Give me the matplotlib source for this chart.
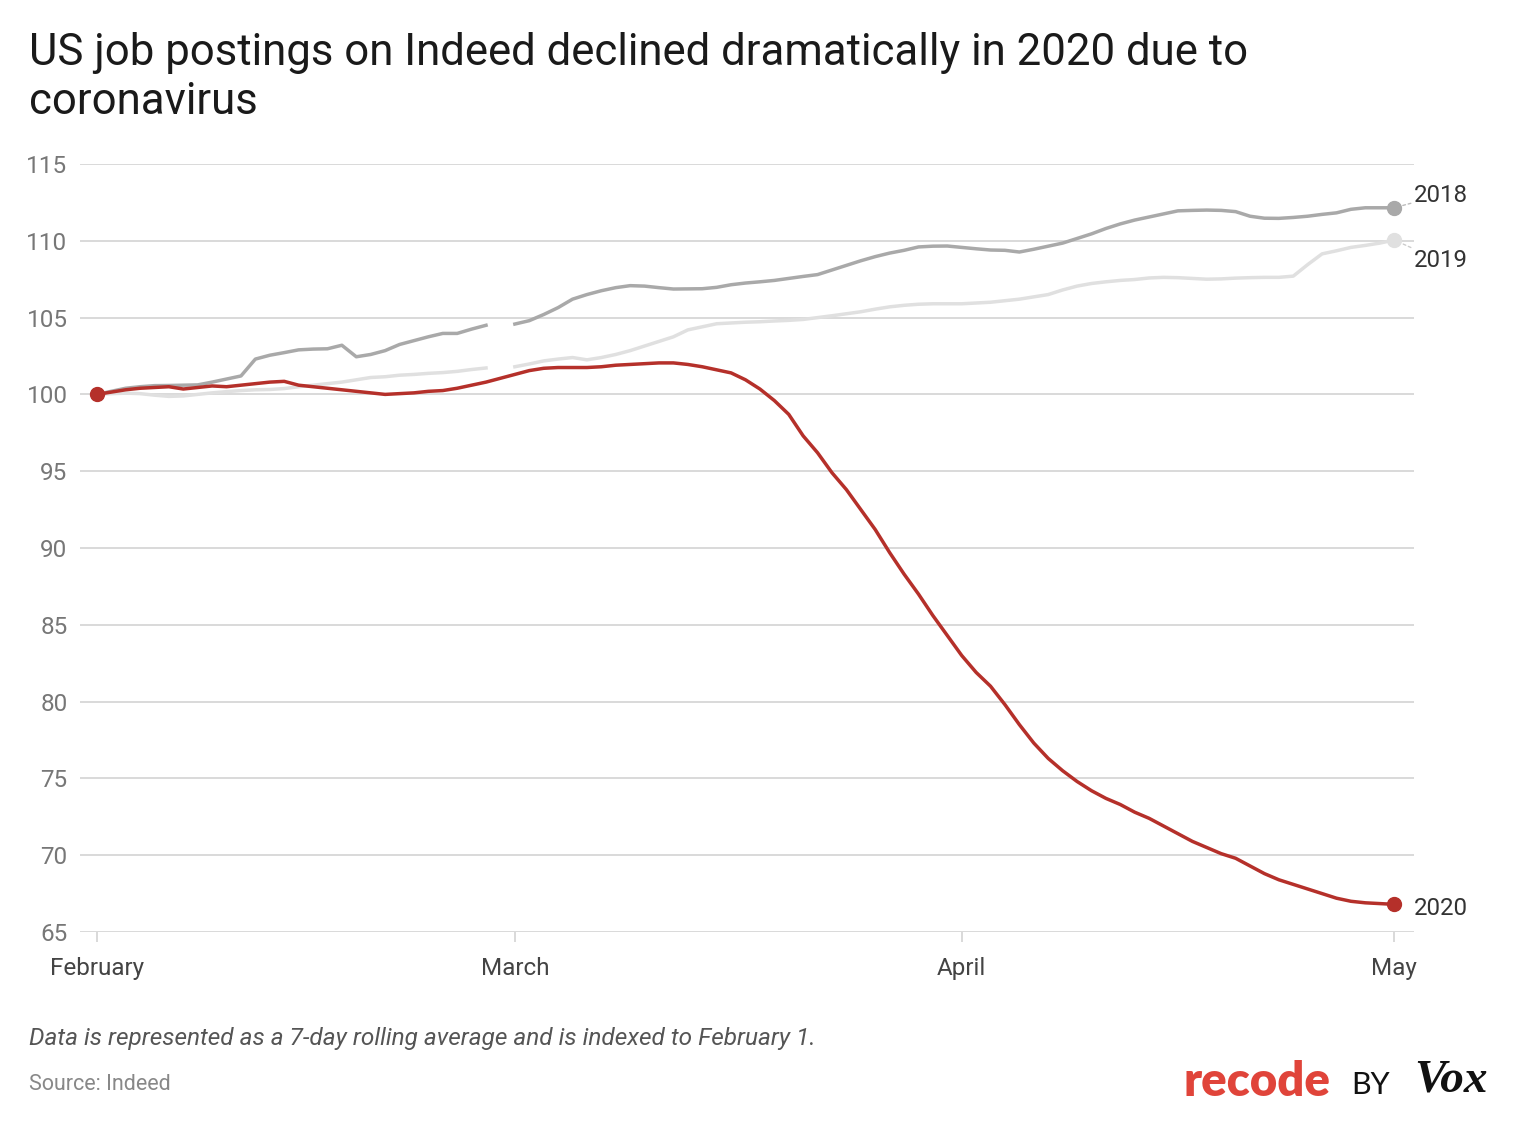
import numpy as np
import pandas as pd
import matplotlib
matplotlib.use("Agg")
import matplotlib.pyplot as plt

# daily values, Feb 1 - May 1 (index = 100 on Feb 1); no Feb 29 in 2018/2019
dates = pd.date_range("2020-02-01", "2020-05-01", freq="D")

y2018 = [100.0, 100.2, 100.4, 100.5, 100.57, 100.58, 100.6, 100.62, 100.8, 101.0,
         101.2, 102.3, 102.55, 102.72, 102.9, 102.95, 102.97, 103.2, 102.45, 102.6,
         102.85, 103.25, 103.5, 103.75, 103.97, 103.97, 104.25, 104.5, np.nan, 104.58,
         104.8, 105.2, 105.65, 106.2, 106.5, 106.75, 106.95, 107.08, 107.05, 106.95,
         106.86, 106.87, 106.88, 106.97, 107.14, 107.25, 107.33, 107.42, 107.55, 107.68,
         107.8, 108.1, 108.4, 108.7, 108.97, 109.2, 109.38, 109.6, 109.65, 109.66,
         109.57, 109.48, 109.4, 109.38, 109.27, 109.45, 109.65, 109.85, 110.15, 110.45,
         110.8, 111.1, 111.35, 111.55, 111.75, 111.95, 111.98, 112.0, 111.98, 111.9,
         111.6, 111.47, 111.46, 111.52, 111.6, 111.72, 111.82, 112.05, 112.15, 112.15,
         112.15]

y2019 = [100.0, 100.05, 100.08, 100.05, 99.95, 99.87, 99.9, 100.0, 100.1, 100.18,
         100.25, 100.3, 100.32, 100.38, 100.5, 100.6, 100.7, 100.8, 100.95, 101.1,
         101.15, 101.25, 101.3, 101.37, 101.42, 101.5, 101.62, 101.72, np.nan, 101.8,
         101.98, 102.18, 102.3, 102.4, 102.25, 102.4, 102.6, 102.85, 103.15, 103.45,
         103.75, 104.2, 104.4, 104.6, 104.65, 104.7, 104.73, 104.78, 104.82, 104.88,
         105.0, 105.12, 105.25, 105.38, 105.55, 105.7, 105.8, 105.87, 105.9, 105.9,
         105.9, 105.95, 106.0, 106.1, 106.2, 106.35, 106.5, 106.8, 107.05, 107.22,
         107.33, 107.42, 107.48, 107.58, 107.62, 107.6, 107.55, 107.5, 107.52, 107.57,
         107.6, 107.62, 107.62, 107.7, 108.45, 109.15, 109.35, 109.57, 109.7, 109.85,
         110.05]

y2020 = [100.0, 100.15, 100.3, 100.4, 100.45, 100.5, 100.35, 100.45, 100.55, 100.5,
         100.6, 100.7, 100.8, 100.85, 100.6, 100.5, 100.4, 100.3, 100.2, 100.1,
         100.0, 100.05, 100.1, 100.2, 100.25, 100.4, 100.6, 100.8, 101.05, 101.3,
         101.55, 101.7, 101.75, 101.75, 101.75, 101.8, 101.9, 101.95, 102.0, 102.05,
         102.05, 101.95, 101.8, 101.6, 101.4, 100.95, 100.35, 99.6, 98.7, 97.3,
         96.2, 94.9, 93.8, 92.5, 91.2, 89.7, 88.3, 87.0, 85.6, 84.3,
         83.0, 81.9, 81.0, 79.8, 78.5, 77.3, 76.3, 75.5, 74.8, 74.2,
         73.7, 73.3, 72.8, 72.4, 71.9, 71.4, 70.9, 70.5, 70.1, 69.8,
         69.3, 68.8, 68.4, 68.1, 67.8, 67.5, 67.2, 67.0, 66.9, 66.85,
         66.8]

month_ticks = pd.to_datetime(["2020-02-01", "2020-03-01", "2020-04-01", "2020-05-01"])
month_labels = ["February", "March", "April", "May"]
y_ticks = [65, 70, 75, 80, 85, 90, 95, 100, 105, 110, 115]

RED = "#b5302a"
DARK = "#a9a9a9"
LIGHT = "#e0e0e0"
GRID = "#d9d9d9"

plt.rcParams["font.family"] = ["Roboto", "DejaVu Sans"]

fig = plt.figure(figsize=(15.18, 11.32), dpi=100)
ax = fig.add_axes([80 / 1518, 1 - 932 / 1132, (1414 - 80) / 1518, (932 - 164) / 1132])

ax.plot(dates, y2019, color=LIGHT, lw=2.5, clip_on=False, zorder=3)
ax.plot(dates, y2018, color=DARK, lw=2.5, clip_on=False, zorder=4)
ax.plot(dates, y2020, color=RED, lw=2.5, clip_on=False, zorder=5)

ax.plot(dates[-1], y2019[-1], "o", color=LIGHT, ms=10, zorder=6, clip_on=False)
ax.plot(dates[-1], y2018[-1], "o", color=DARK, ms=10, zorder=6, clip_on=False)
ax.plot(dates[-1], y2020[-1], "o", color=RED, ms=10, zorder=6, clip_on=False)
ax.plot(dates[0], y2020[0], "o", color=RED, ms=10, zorder=6, clip_on=False)

# end labels
ax.annotate("2018", xy=(dates[-1], y2018[-1]), xytext=(14, 9), textcoords="offset points",
            fontsize=17.3, color="#333333", va="center", ha="left",
            arrowprops=dict(arrowstyle="-", color="#bbbbbb", ls=(0, (2, 2)), lw=1,
                            shrinkA=0, shrinkB=6))
ax.annotate("2019", xy=(dates[-1], y2019[-1]), xytext=(14, -15), textcoords="offset points",
            fontsize=17.3, color="#333333", va="center", ha="left",
            arrowprops=dict(arrowstyle="-", color="#cccccc", ls=(0, (2, 2)), lw=1,
                            shrinkA=0, shrinkB=6))
ax.annotate("2020", xy=(dates[-1], y2020[-1]), xytext=(14, -3), textcoords="offset points",
            fontsize=17.3, color="#333333", va="center", ha="left")

ax.set_ylim(65, 115)
ax.set_xlim(dates[0] - pd.Timedelta(hours=28), dates[-1] + pd.Timedelta(hours=33))
ax.set_yticks(y_ticks)
ax.set_xticks(month_ticks)
ax.set_xticklabels(month_labels)
ax.grid(axis="y", color=GRID, lw=1.4)
ax.set_axisbelow(True)
for s in ax.spines.values():
    s.set_visible(False)
ax.tick_params(axis="y", length=0, pad=9, labelsize=17.5, labelcolor="#777777")
ax.tick_params(axis="x", length=7, width=1.4, color=GRID, pad=11, labelsize=17.5,
               labelcolor="#444444")

fig.text(29 / 1518, 1 - 32 / 1132,
         "US job postings on Indeed declined dramatically in 2020 due to\ncoronavirus",
         fontsize=31.5, color="#1a1a1a", va="top", ha="left", linespacing=1.22)

fig.text(29 / 1518, 1 - 1039 / 1132,
         "Data is represented as a 7-day rolling average and is indexed to February 1.",
         fontsize=17.6, style="italic", color="#555555", va="center", ha="left")
fig.text(29 / 1518, 1 - 1084 / 1132, "Source: Indeed",
         fontsize=15.5, color="#888888", va="center", ha="left")

# logo
fig.text(1183 / 1518, 1 - 1082 / 1132, "recode", fontsize=34, fontweight="heavy",
         color="#e0443a", va="center", ha="left", family=["Lato", "DejaVu Sans"])
fig.text(1351 / 1518, 1 - 1085 / 1132, "BY", fontsize=22, color="#111111",
         va="center", ha="left", family=["Lato", "DejaVu Sans"])
fig.text(1414 / 1518, 1 - 1080 / 1132, "Vox", fontsize=34, fontweight="bold",
         style="italic", color="#111111", va="center", ha="left",
         family=["Liberation Serif", "DejaVu Serif"])

fig.savefig("out.png", dpi=100, facecolor="white")
